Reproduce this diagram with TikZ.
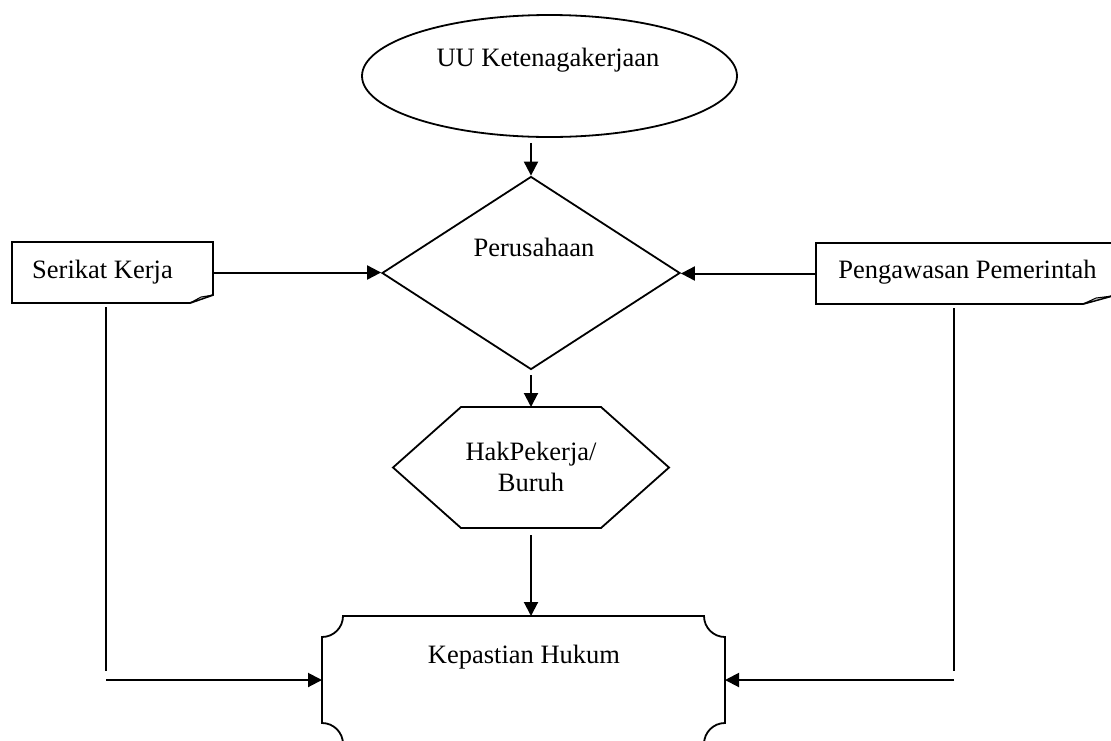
\documentclass[tikz,border=0pt]{standalone}
\usepackage{fontspec}
\setmainfont{Liberation Serif}
\usetikzlibrary{shapes.geometric,arrows.meta}
\begin{document}
\begin{tikzpicture}[x=1pt,y=-1pt,
  shp/.style={draw, line width=1.8pt},
  ghost/.style={draw=none, rectangle, inner sep=0pt, outer sep=0pt},
  txt/.style={font=\fontsize{26.5}{31}\selectfont, inner sep=0pt},
  arr/.style={line width=2pt, -{Triangle[length=14pt,width=14pt]}},
  ln/.style={line width=2pt}]
\useasboundingbox (0,0) rectangle (1111,740);

% Ellipse
\node[shp, ellipse, minimum width=375pt, minimum height=122pt, inner sep=0pt] (uu) at (549.5,76) {};
\node[txt] (uut) at (548,60) {UU Ketenagakerjaan};

% Diamond
\node[shp, diamond, minimum width=298pt, minimum height=193pt, inner sep=0pt] (per) at (531,273) {};
\node[txt] (pert) at (534,247) {Perusahaan};

% Hexagon
\node[ghost, minimum width=276pt, minimum height=121pt] (hak) at (531,467.5) {};
\draw[shp] (hak.west) -- ([xshift=68pt]hak.north west) -- ([xshift=-68pt]hak.north east)
  -- (hak.east) -- ([xshift=-68pt]hak.south east) -- ([xshift=68pt]hak.south west) -- cycle;
\node[txt, align=center] (hakt) at (531,467) {HakPekerja/\\Buruh};

% Plaque (concave corners)
\node[ghost, minimum width=403pt, minimum height=128pt] (kh) at (523.5,680) {};
\draw[shp] ([xshift=21pt]kh.north west) -- ([xshift=-21pt]kh.north east)
  .. controls ([xshift=-21pt,yshift=-11.6pt]kh.north east) and ([xshift=-11.6pt,yshift=-21pt]kh.north east) .. ([yshift=-21pt]kh.north east)
  -- ([yshift=21pt]kh.south east)
  .. controls ([xshift=-11.6pt,yshift=21pt]kh.south east) and ([xshift=-21pt,yshift=11.6pt]kh.south east) .. ([xshift=-21pt]kh.south east)
  -- ([xshift=21pt]kh.south west)
  .. controls ([xshift=21pt,yshift=11.6pt]kh.south west) and ([xshift=11.6pt,yshift=21pt]kh.south west) .. ([yshift=21pt]kh.south west)
  -- ([yshift=-21pt]kh.north west)
  .. controls ([xshift=11.6pt,yshift=-21pt]kh.north west) and ([xshift=21pt,yshift=-11.6pt]kh.north west) .. ([xshift=21pt]kh.north west)
  -- cycle;
\node[txt] (kht) at (524,657) {Kepastian Hukum};

% Serikat Kerja
\node[ghost, minimum width=201pt, minimum height=61pt] (sk) at (112.5,272.5) {};
\draw[shp] (sk.north west) -- (sk.north east) -- ([yshift=8pt]sk.south east)
  -- ([xshift=-23pt]sk.south east) -- (sk.south west) -- cycle;
\filldraw[fill=gray!45, line width=1pt] ([xshift=-23pt]sk.south east) -- ([yshift=8pt]sk.south east)
  -- ([xshift=-12pt,yshift=6pt]sk.south east) -- cycle;
\node[txt] (skt) at (102.5,272) {Serikat Kerja};

% Pengawasan Pemerintah
\node[ghost, minimum width=296pt, minimum height=61pt] (pw) at (964,273.5) {};
\draw[shp] (pw.north west) -- (pw.north east) -- ([yshift=8pt]pw.south east)
  -- ([xshift=-29pt]pw.south east) -- (pw.south west) -- cycle;
\filldraw[fill=gray!45, line width=1pt] ([xshift=-29pt]pw.south east) -- ([yshift=8pt]pw.south east)
  -- ([xshift=-16pt,yshift=6pt]pw.south east) -- cycle;
\node[txt] (pwt) at (967.5,272.5) {Pengawasan Pemerintah};

% Connectors
\draw[arr] ([yshift=-5pt]uu.south -| per.north) -- (per.north);
\draw[arr] ([yshift=-5pt]per.south) -- (per.south |- hak.north);
\draw[arr] ([yshift=-7pt]hak.south) -- (hak.south |- kh.north);
\draw[arr] (sk.east) -- (sk.east -| per.west);
\draw[arr] (pw.west) -- (pw.west -| per.east);

\coordinate (lc) at (106,680);
\coordinate (rc) at (954,680);
\draw[ln] ([yshift=-4pt]sk.south -| lc) -- ([yshift=9pt]lc);
\draw[arr] (lc) -- (lc -| kh.west);
\draw[ln] ([yshift=-4pt]pw.south -| rc) -- ([yshift=9pt]rc);
\draw[arr] (rc) -- (rc -| kh.east);
\end{tikzpicture}
\end{document}
